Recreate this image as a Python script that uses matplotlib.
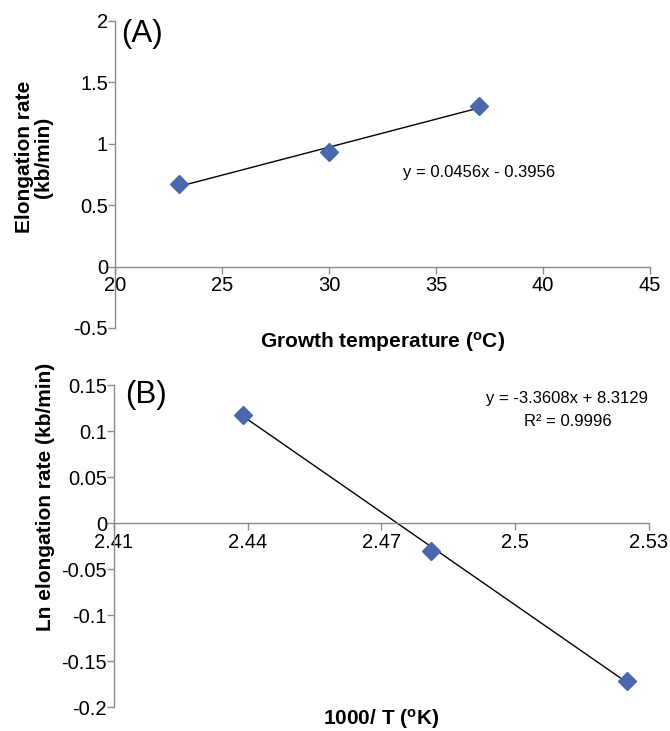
import matplotlib
matplotlib.use("Agg")
import matplotlib.pyplot as plt
import numpy as np

plt.rcParams['font.family'] = ['Liberation Sans', 'DejaVu Sans']
plt.rcParams['mathtext.fontset'] = 'custom'
plt.rcParams['mathtext.rm'] = 'Liberation Sans'
plt.rcParams['mathtext.bf'] = 'Liberation Sans:bold'

# panel A data
temp_a = [23, 30, 37]
rate_a = [0.67, 0.93, 1.31]
slope_a, icpt_a = 0.0456, -0.3956

# panel B data
invT_b = [2.439, 2.481, 2.525]
lnrate_b = [0.117, -0.030, -0.172]
slope_b, icpt_b = -3.3608, 8.3129

mcol = '#4b67ad'
gcol = '#8c8c8c'

fig = plt.figure(figsize=(6.7, 7.31), dpi=100)
axA = fig.add_axes([0.1716, 0.5513, 0.7985, 0.42])
axB = fig.add_axes([0.1701, 0.0328, 0.7985, 0.4405])

def style(ax):
    for s in ['top', 'right']:
        ax.spines[s].set_visible(False)
    ax.spines['bottom'].set_position(('data', 0))
    for s in ['left', 'bottom']:
        ax.spines[s].set_color(gcol)
        ax.spines[s].set_linewidth(1.0)
    ax.tick_params(axis='both', direction='out', length=5, width=1.0,
                   color=gcol, labelsize=14.5)
    ax.tick_params(axis='y', pad=0)
    ax.tick_params(axis='x', pad=2)

# ---- A
style(axA)
axA.set_xlim(20, 45)
axA.set_ylim(-0.5, 2)
axA.set_xticks([20, 25, 30, 35, 40, 45])
axA.set_yticks([-0.5, 0, 0.5, 1, 1.5, 2])
axA.set_yticklabels(['-0.5', '0', '0.5', '1', '1.5', '2'])
xx = np.array([temp_a[0], temp_a[-1]])
axA.plot(xx, slope_a * xx + icpt_a, color='black', lw=1.0, zorder=2)
axA.plot(temp_a, rate_a, 'D', color=mcol, markersize=9, zorder=3)
axA.text(37.0, 0.77, 'y = 0.0456x - 0.3956', ha='center', va='center', fontsize=12)
axA.text(20.3, 2.02, '(A)', fontsize=22.5, va='top', ha='left')
axA.set_ylabel('Elongation rate\n(kb/min)', fontsize=15, fontweight='bold', linespacing=1.0)
axA.yaxis.set_label_coords(-0.116, 0.557)
axA.set_xlabel(r'Growth temperature ($\mathbf{^{o}}$C)', fontsize=15, fontweight='bold')
axA.xaxis.set_label_coords(0.5, -0.005)

# ---- B
style(axB)
axB.set_xlim(2.41, 2.53)
axB.set_ylim(-0.2, 0.15)
axB.set_xticks([2.41, 2.44, 2.47, 2.5, 2.53])
axB.set_xticklabels(['2.41', '2.44', '2.47', '2.5', '2.53'])
axB.set_yticks([-0.2, -0.15, -0.1, -0.05, 0, 0.05, 0.1, 0.15])
axB.set_yticklabels(['-0.2', '-0.15', '-0.1', '-0.05', '0', '0.05', '0.1', '0.15'])
xx = np.array([invT_b[0], invT_b[-1]])
axB.plot(xx, slope_b * xx + icpt_b, color='black', lw=1.0, zorder=2)
axB.plot(invT_b, lnrate_b, 'D', color=mcol, markersize=9, zorder=3)
axB.text(2.5117, 0.135, 'y = -3.3608x + 8.3129', ha='center', va='center', fontsize=12)
axB.text(2.5117, 0.110, 'R² = 0.9996', ha='center', va='center', fontsize=12)
axB.text(2.4125, 0.155, '(B)', fontsize=22.5, va='top', ha='left')
axB.set_ylabel('Ln elongation rate (kb/min)', fontsize=15, fontweight='bold')
axB.yaxis.set_label_coords(-0.11, 0.652)
axB.set_xlabel(r'1000/ T ($\mathbf{^{o}}$K)', fontsize=15, fontweight='bold')
axB.xaxis.set_label_coords(0.5, 0.0)

fig.savefig('out.png', dpi=100)
